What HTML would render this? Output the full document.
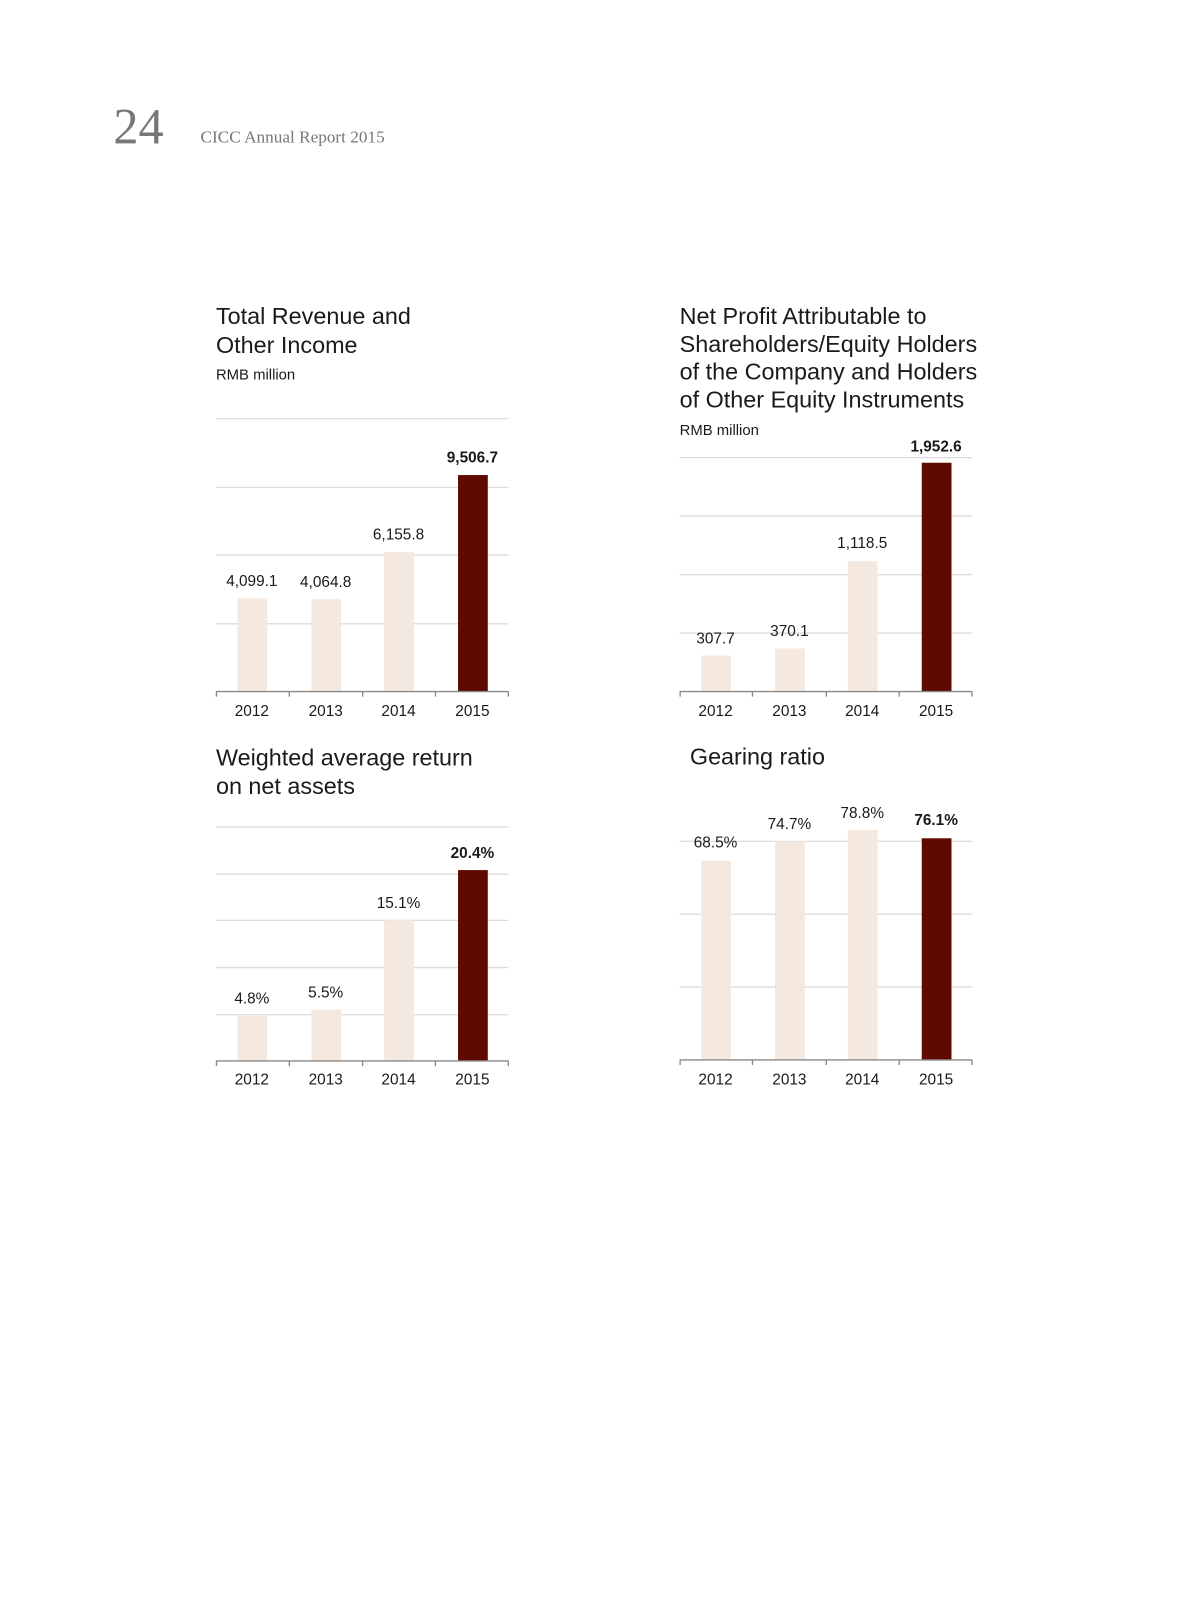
<!DOCTYPE html>
<html><head><meta charset="utf-8"><style>
html,body{margin:0;padding:0;background:#fff;}
svg{display:block;}
text{font-family:"Liberation Sans",Arial,sans-serif;fill:#1a1a1a;}
.s{font-family:"Liberation Serif",serif;fill:#777;}
.t{font-size:22.8px;}
.u{font-size:14.5px;}
.v{font-size:15px;text-anchor:middle;}
.b{font-weight:bold;}
.g{stroke:#dcdcdc;stroke-width:1.3;}
.a{stroke:#888;stroke-width:1.3;}
.l{fill:#f5e8de;}
.d{fill:#5e0a00;}
</style></head><body>
<svg width="1190" height="1615" viewBox="-1.5 -2 1160 1574" preserveAspectRatio="none">
<text class="s" x="109" y="138" font-size="49">24</text>
<text class="s" x="194" y="137" font-size="16.8">CICC Annual Report 2015</text>

<!-- Chart 1 -->
<text class="t" x="209" y="314">Total Revenue and</text>
<text class="t" x="209" y="342">Other Income</text>
<text class="u" x="209" y="368">RMB million</text>
<line class="g" x1="209" x2="494" y1="406" y2="406"/>
<line class="g" x1="209" x2="494" y1="473" y2="473"/>
<line class="g" x1="209" x2="494" y1="539" y2="539"/>
<line class="g" x1="209" x2="494" y1="606" y2="606"/>
<rect class="l" x="230" y="581" width="29" height="91"/>
<rect class="l" x="302" y="582" width="29" height="90"/>
<rect class="l" x="373" y="536" width="29" height="136"/>
<rect class="d" x="445" y="461" width="29" height="211"/>
<line class="a" x1="209" x2="494" y1="672" y2="672"/>
<path class="a" d="M209.5 672v5M280.5 672v5M352 672v5M423 672v5M494 672v5"/>
<text class="v" x="244" y="569">4,099.1</text>
<text class="v" x="316" y="570">4,064.8</text>
<text class="v" x="387" y="524">6,155.8</text>
<text class="v b" x="459" y="449">9,506.7</text>
<text class="v" x="244" y="696">2012</text>
<text class="v" x="316" y="696">2013</text>
<text class="v" x="387" y="696">2014</text>
<text class="v" x="459" y="696">2015</text>

<!-- Chart 2 -->
<text class="t" x="661" y="314">Net Profit Attributable to</text>
<text class="t" x="661" y="341">Shareholders/Equity Holders</text>
<text class="t" x="661" y="368">of the Company and Holders</text>
<text class="t" x="661" y="395">of Other Equity Instruments</text>
<text class="u" x="661" y="422">RMB million</text>
<line class="g" x1="661" x2="946" y1="444" y2="444"/>
<line class="g" x1="661" x2="946" y1="501" y2="501"/>
<line class="g" x1="661" x2="946" y1="558" y2="558"/>
<line class="g" x1="661" x2="946" y1="615" y2="615"/>
<rect class="l" x="682" y="637" width="29" height="35"/>
<rect class="l" x="754" y="630" width="29" height="42"/>
<rect class="l" x="825" y="545" width="29" height="127"/>
<rect class="d" x="897" y="449" width="29" height="223"/>
<line class="a" x1="661" x2="946" y1="672" y2="672"/>
<path class="a" d="M661.5 672v5M732 672v5M804 672v5M875 672v5M946 672v5"/>
<text class="v" x="696" y="625">307.7</text>
<text class="v" x="768" y="618">370.1</text>
<text class="v" x="839" y="532">1,118.5</text>
<text class="v b" x="911" y="438">1,952.6</text>
<text class="v" x="696" y="696">2012</text>
<text class="v" x="768" y="696">2013</text>
<text class="v" x="839" y="696">2014</text>
<text class="v" x="911" y="696">2015</text>

<!-- Chart 3 -->
<text class="t" x="209" y="744">Weighted average return</text>
<text class="t" x="209" y="772">on net assets</text>
<line class="g" x1="209" x2="494" y1="804" y2="804"/>
<line class="g" x1="209" x2="494" y1="850" y2="850"/>
<line class="g" x1="209" x2="494" y1="895" y2="895"/>
<line class="g" x1="209" x2="494" y1="941" y2="941"/>
<line class="g" x1="209" x2="494" y1="987" y2="987"/>
<rect class="l" x="230" y="988" width="29" height="44"/>
<rect class="l" x="302" y="982" width="29" height="50"/>
<rect class="l" x="373" y="895" width="29" height="137"/>
<rect class="d" x="445" y="846" width="29" height="186"/>
<line class="a" x1="209" x2="494" y1="1032" y2="1032"/>
<path class="a" d="M209.5 1032v5M280.5 1032v5M352 1032v5M423 1032v5M494 1032v5"/>
<text class="v" x="244" y="976">4.8%</text>
<text class="v" x="316" y="970">5.5%</text>
<text class="v" x="387" y="883">15.1%</text>
<text class="v b" x="459" y="834">20.4%</text>
<text class="v" x="244" y="1055">2012</text>
<text class="v" x="316" y="1055">2013</text>
<text class="v" x="387" y="1055">2014</text>
<text class="v" x="459" y="1055">2015</text>

<!-- Chart 4 -->
<text class="t" x="671" y="743">Gearing ratio</text>
<line class="g" x1="661" x2="946" y1="818" y2="818"/>
<line class="g" x1="661" x2="946" y1="889" y2="889"/>
<line class="g" x1="661" x2="946" y1="960" y2="960"/>
<rect class="l" x="682" y="837" width="29" height="194"/>
<rect class="l" x="754" y="818" width="29" height="213"/>
<rect class="l" x="825" y="807" width="29" height="224"/>
<rect class="d" x="897" y="815" width="29" height="216"/>
<line class="a" x1="661" x2="946" y1="1031" y2="1031"/>
<path class="a" d="M661.5 1031v5M732 1031v5M804 1031v5M875 1031v5M946 1031v5"/>
<text class="v" x="696" y="824">68.5%</text>
<text class="v" x="768" y="806">74.7%</text>
<text class="v" x="839" y="795">78.8%</text>
<text class="v b" x="911" y="802">76.1%</text>
<text class="v" x="696" y="1055">2012</text>
<text class="v" x="768" y="1055">2013</text>
<text class="v" x="839" y="1055">2014</text>
<text class="v" x="911" y="1055">2015</text>
</svg>
</body></html>
